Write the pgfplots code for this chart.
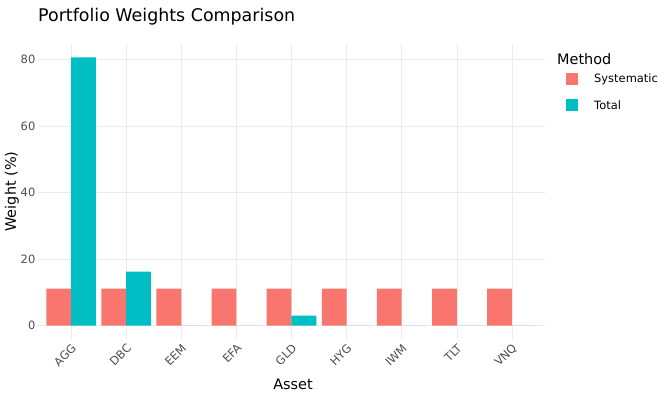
\documentclass[border=0pt]{standalone}
\usepackage{fontspec}
\setmainfont{DejaVu Sans}
\usepackage{pgfplots}
\pgfplotsset{compat=1.18}
\definecolor{sysred}{HTML}{F8766D}
\definecolor{totcyan}{HTML}{00BFC4}
\definecolor{gridgray}{HTML}{EBEBEB}
\definecolor{ticktext}{HTML}{4D4D4D}
\begin{document}
\begin{tikzpicture}
\path[use as bounding box] (-38bp,-54bp) rectangle (634bp,339bp);
\begin{axis}[
  at={(0,0)}, anchor=south west,
  scale only axis, width=507bp, height=295bp,
  xmin=-0.6, xmax=8.6, ymin=-4.04, ymax=84.7,
  xtick={0,1,2,3,4,5,6,7,8},
  xticklabels={AGG,DBC,EEM,EFA,GLD,HYG,IWM,TLT,VNQ},
  ytick={0,20,40,60,80},
  grid=major,
  major grid style={draw=gridgray, line width=0.6bp},
  axis line style={draw=none},
  tick style={draw=none},
  /pgf/number format/assume math mode=true,
  tick label style={font=\fontsize{11.5}{13}\selectfont, text=ticktext},
  yticklabel style={inner sep=0pt, xshift=-2.5bp},
  xticklabel style={xshift=3bp, yshift=-7bp, rotate=45, anchor=east, inner sep=0pt},
  label style={font=\fontsize{14.5}{16}\selectfont},
  xlabel={Asset},
  xlabel style={at={(axis description cs:0.503,-0.1525)}, anchor=center},
  ylabel={Weight (\%)},
  ylabel style={at={(axis description cs:-0.0513,0.5)}, anchor=center},
  title={Portfolio Weights Comparison},
  title style={at={(axis description cs:0,1)}, anchor=base west, inner sep=0pt, xshift=0bp, yshift=17bp, font=\fontsize{17.5}{20}\selectfont},
  legend style={at={(axis description cs:1,1)}, anchor=north west, xshift=21bp, yshift=-28bp, draw=none, fill=none, font=\fontsize{11.5}{13}\selectfont, row sep=12bp, cells={anchor=west}, inner sep=0pt},
  legend image code/.code={\fill[#1] (0bp,-6bp) rectangle (12bp,6bp);},
  clip=false,
]
\addplot[ybar, bar width=0.45, bar shift=-0.225, fill=sysred, draw=none]
  coordinates {(0,11.11) (1,11.11) (2,11.11) (3,11.11) (4,11.11) (5,11.11) (6,11.11) (7,11.11) (8,11.11)};
\addlegendentry{\hspace{14bp}Systematic}
\addplot[ybar, bar width=0.45, bar shift=0.225, fill=totcyan, draw=none]
  coordinates {(0,80.7) (1,16.2) (2,0) (3,0) (4,3.0) (5,0) (6,0) (7,0) (8,0)};
\addlegendentry{\hspace{14bp}Total}
\node[anchor=base west, inner sep=0pt, font=\fontsize{14.5}{16}\selectfont] at (axis description cs:1,1) [xshift=12bp, yshift=-21bp] {Method};
\end{axis}
\end{tikzpicture}
\end{document}
